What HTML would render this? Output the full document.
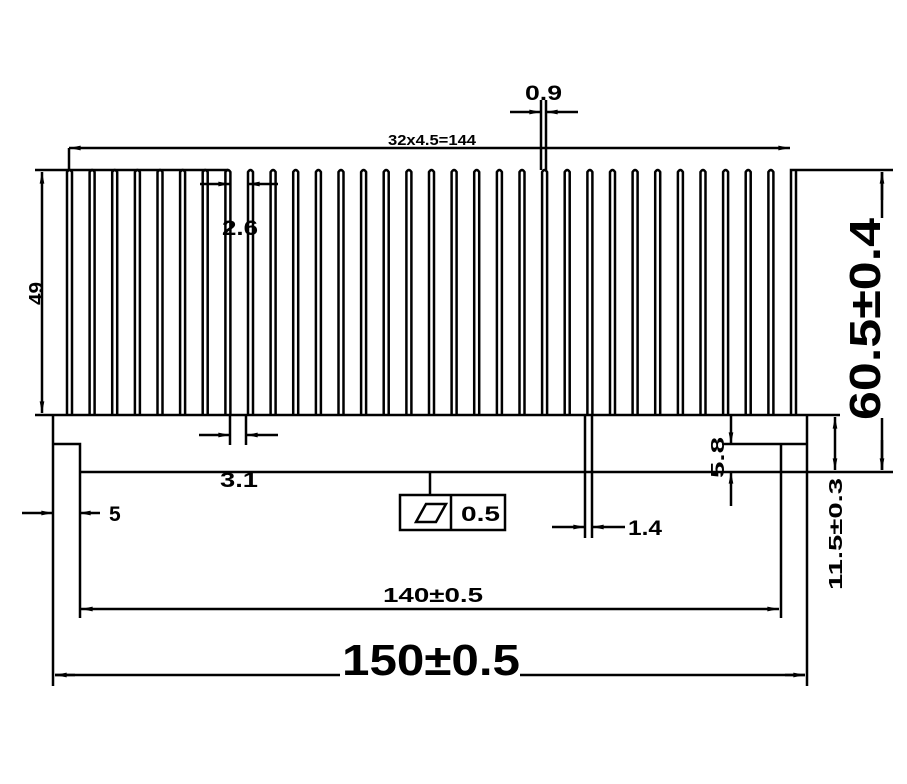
<!DOCTYPE html>
<html><head><meta charset="utf-8"><style>
html,body{margin:0;padding:0;background:#fff;}
svg{display:block;}
text{font-family:"Liberation Sans",sans-serif;font-weight:bold;fill:#000;}
</style></head><body>
<svg width="907" height="784" viewBox="0 0 907 784" xmlns="http://www.w3.org/2000/svg">
<defs>
<marker id="a" viewBox="0 0 10 6" refX="10" refY="3" markerWidth="18" markerHeight="7" markerUnits="userSpaceOnUse" orient="auto-start-reverse"><path d="M0,1 L10,3 L0,5 Z" fill="#000"/></marker>
</defs>
<g stroke="#000" stroke-width="2.5" fill="none">
<g id="fins">
<path d="M67,415 V172 Q69.5,168 72,172 V415"/>
<path d="M89.6,415 V172 Q92.1,168 94.6,172 V415"/>
<path d="M112.2,415 V172 Q114.7,168 117.2,172 V415"/>
<path d="M134.9,415 V172 Q137.4,168 139.9,172 V415"/>
<path d="M157.5,415 V172 Q160,168 162.5,172 V415"/>
<path d="M180.1,415 V172 Q182.6,168 185.1,172 V415"/>
<path d="M202.7,415 V172 Q205.2,168 207.7,172 V415"/>
<path d="M225.4,415 V172 Q227.9,168 230.4,172 V415"/>
<path d="M248,415 V172 Q250.5,168 253,172 V415"/>
<path d="M270.6,415 V172 Q273.1,168 275.6,172 V415"/>
<path d="M293.2,415 V172 Q295.7,168 298.2,172 V415"/>
<path d="M315.9,415 V172 Q318.4,168 320.9,172 V415"/>
<path d="M338.5,415 V172 Q341,168 343.5,172 V415"/>
<path d="M361.1,415 V172 Q363.6,168 366.1,172 V415"/>
<path d="M383.7,415 V172 Q386.2,168 388.7,172 V415"/>
<path d="M406.4,415 V172 Q408.9,168 411.4,172 V415"/>
<path d="M429,415 V172 Q431.5,168 434,172 V415"/>
<path d="M451.6,415 V172 Q454.1,168 456.6,172 V415"/>
<path d="M474.2,415 V172 Q476.7,168 479.2,172 V415"/>
<path d="M496.9,415 V172 Q499.4,168 501.9,172 V415"/>
<path d="M519.5,415 V172 Q522,168 524.5,172 V415"/>
<path d="M542.1,415 V172 Q544.6,168 547.1,172 V415"/>
<path d="M564.7,415 V172 Q567.2,168 569.7,172 V415"/>
<path d="M587.4,415 V172 Q589.9,168 592.4,172 V415"/>
<path d="M610,415 V172 Q612.5,168 615,172 V415"/>
<path d="M632.6,415 V172 Q635.1,168 637.6,172 V415"/>
<path d="M655.2,415 V172 Q657.7,168 660.2,172 V415"/>
<path d="M677.9,415 V172 Q680.4,168 682.9,172 V415"/>
<path d="M700.5,415 V172 Q703,168 705.5,172 V415"/>
<path d="M723.1,415 V172 Q725.6,168 728.1,172 V415"/>
<path d="M745.7,415 V172 Q748.2,168 750.7,172 V415"/>
<path d="M768.4,415 V172 Q770.9,168 773.4,172 V415"/>
<path d="M791,415 V170 H893"/>
<path d="M796,170 V415"/>
</g>
<path d="M35,415 H840"/>
<path d="M35,170 H228"/>
<path d="M53,415 V686"/>
<path d="M53,444 H80 V618"/>
<path d="M807,415 V686"/>
<path d="M722,444 H808"/>
<path d="M781,444 V618"/>
<path d="M79,472 H893"/>
<path d="M42,172 V413" marker-start="url(#a)" marker-end="url(#a)"/>
<path d="M69,148 H790" marker-start="url(#a)" marker-end="url(#a)"/>
<path d="M69,148 V170"/>
<path d="M541,100 V170 M546,100 V170"/>
<path d="M510,112 H541" marker-end="url(#a)"/>
<path d="M578,112 H546" marker-end="url(#a)"/>
<path d="M200,184 H230" marker-end="url(#a)"/>
<path d="M278,184 H248" marker-end="url(#a)"/>
<path d="M230,415 V445 M246,415 V445"/>
<path d="M199,435 H230" marker-end="url(#a)"/>
<path d="M278,435 H246" marker-end="url(#a)"/>
<path d="M22,513 H53" marker-end="url(#a)"/>
<path d="M100,513 H79" marker-end="url(#a)"/>
<path d="M81,609 H779" marker-start="url(#a)" marker-end="url(#a)"/>
<path d="M55,675 H340 M520,675 H805" />
<path d="M75,675 H55" marker-end="url(#a)"/>
<path d="M785,675 H805" marker-end="url(#a)"/>
<path d="M585,415 V538 M592,415 V538"/>
<path d="M552,527 H585" marker-end="url(#a)"/>
<path d="M625,527 H592" marker-end="url(#a)"/>
<path d="M731,415 V444" marker-end="url(#a)" />
<path d="M731,506 V472" marker-end="url(#a)"/>
<path d="M835,417 V470" marker-start="url(#a)" marker-end="url(#a)"/>
<path d="M882,172 V218 M882,418 V470"/>
<path d="M882,200 V172" marker-end="url(#a)"/>
<path d="M882,440 V470" marker-end="url(#a)"/>
<path d="M430,472 V495"/>
<rect x="400" y="495" width="105" height="35"/>
<path d="M451,495 V530"/>
<path d="M416,522 L426,504 H446 L436,522 Z"/>
</g>
<text x="388" y="145" font-size="15" textLength="88" lengthAdjust="spacingAndGlyphs">32x4.5=144</text>
<text x="525" y="100" font-size="21" textLength="37" lengthAdjust="spacingAndGlyphs">0.9</text>
<text x="222" y="235" font-size="21" textLength="36" lengthAdjust="spacingAndGlyphs">2.6</text>
<text x="220" y="487" font-size="21" textLength="38" lengthAdjust="spacingAndGlyphs">3.1</text>
<text x="109" y="521" font-size="21">5</text>
<text x="628" y="535" font-size="21" textLength="34" lengthAdjust="spacingAndGlyphs">1.4</text>
<text x="461" y="521" font-size="21" textLength="39" lengthAdjust="spacingAndGlyphs">0.5</text>
<text x="383" y="602" font-size="20" textLength="100" lengthAdjust="spacingAndGlyphs">140±0.5</text>
<text x="342" y="675" font-size="44" textLength="178" lengthAdjust="spacingAndGlyphs">150±0.5</text>
<text transform="translate(43,305) rotate(-90)" font-size="20" textLength="23" lengthAdjust="spacingAndGlyphs">49</text>
<text transform="translate(724,478) rotate(-90)" font-size="18" textLength="41" lengthAdjust="spacingAndGlyphs">5.8</text>
<text transform="translate(842,590) rotate(-90)" font-size="18" textLength="112" lengthAdjust="spacingAndGlyphs">11.5±0.3</text>
<text transform="translate(880,420) rotate(-90)" font-size="44" textLength="202" lengthAdjust="spacingAndGlyphs">60.5±0.4</text>
</svg>
</body></html>
